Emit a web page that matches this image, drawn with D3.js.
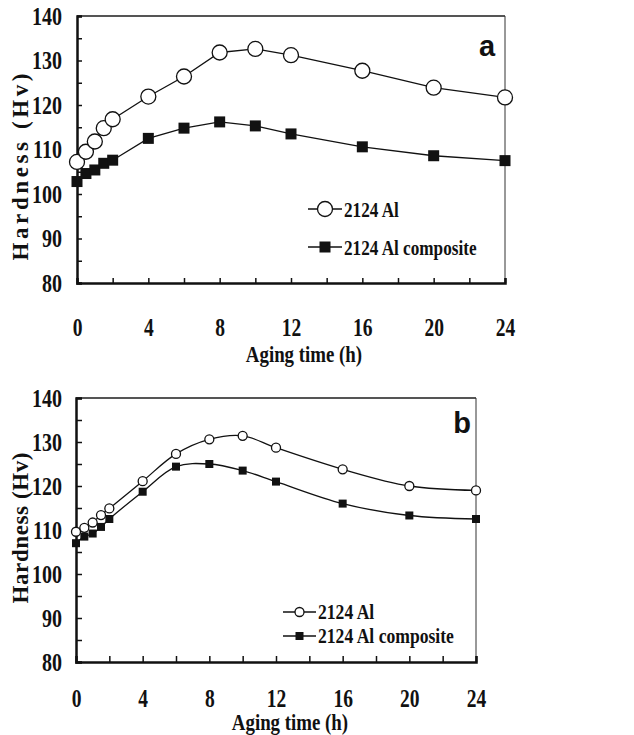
<!DOCTYPE html>
<html>
<head>
<meta charset="utf-8">
<script src="https://cdn.jsdelivr.net/npm/d3@7"></script>
<style>
  body { margin: 0; background: #fff; }
  svg { display: block; }
  text { font-family: "Liberation Serif", "Times New Roman", serif; font-weight: bold; fill: #111; }
</style>
</head>
<body>
<div id="chart"></div>
<script>
//Datos
const hours = [0, 0.5, 1, 1.5, 2, 4, 6, 8, 10, 12, 16, 20, 24];
const alloyA = [107.2, 109.5, 111.8, 114.8, 116.8, 121.9, 126.4, 131.8, 132.6, 131.2, 127.7, 123.9, 121.7];
const compositeA = [102.8, 104.6, 105.4, 106.9, 107.6, 112.5, 114.8, 116.2, 115.3, 113.5, 110.6, 108.6, 107.5];
const alloyB = [109.6, 110.5, 111.7, 113.4, 114.9, 121.1, 127.3, 130.6, 131.4, 128.7, 123.8, 120.0, 119.0];
const compositeB = [107.0, 108.5, 109.2, 110.7, 112.5, 118.7, 124.4, 125.0, 123.5, 121.0, 116.0, 113.3, 112.5];
const seriesNames = ['2124 Al', '2124 Al composite'];
const xTicks = [0, 4, 8, 12, 16, 20, 24];
const yTicks = [80, 90, 100, 110, 120, 130, 140];
const xTitle = 'Aging time (h)';
const yTitle = 'Hardness (Hv)';

let svg = d3.select('#chart').append('svg')
    .attr('width', 634)
    .attr('height', 735);

//Letra estrecha tipo Times condensada
function squeeze(sel, f) {
    sel.each(function() {
        let w = this.getComputedTextLength();
        d3.select(this)
            .attr('textLength', w * f)
            .attr('lengthAdjust', 'spacingAndGlyphs');
    });
}

function drawPanel(p) {
    let g = svg.append('g');

    let x = d3.scaleLinear().domain([0, 24]).range([p.left, p.right]);
    let y = d3.scaleLinear().domain([80, 140]).range([p.bottom, p.top]);

    //Marco: arriba gris, derecha fina
    g.append('line')
        .attr('x1', p.left).attr('x2', p.right)
        .attr('y1', p.top).attr('y2', p.top)
        .attr('stroke', '#555').attr('stroke-width', 2);
    g.append('line')
        .attr('x1', p.right).attr('x2', p.right)
        .attr('y1', p.top).attr('y2', p.bottom)
        .attr('stroke', '#333').attr('stroke-width', 1);

    //Ejes con ticks hacia dentro
    let xAxis = d3.axisBottom(x)
        .tickValues(d3.range(0, 25, 2))
        .tickSize(-p.tick)
        .tickFormat(function(d) { return xTicks.includes(d) ? d : ''; })
        .tickPadding(p.xPad);
    g.append('g')
        .attr('transform', 'translate(0,' + p.bottom + ')')
        .call(xAxis)
        .call(function(a) {
            a.select('.domain').attr('stroke', '#111').attr('stroke-width', 2.5);
            a.selectAll('.tick line').attr('stroke', '#111').attr('stroke-width', 1.5);
            a.selectAll('.tick text')
                .style('font-size', p.tickFont + 'px')
                .call(squeeze, 0.78);
        });

    let yAxis = d3.axisLeft(y)
        .tickValues(d3.range(80, 141, 5))
        .tickSize(-p.tick)
        .tickFormat(function(d) { return yTicks.includes(d) ? d : ''; })
        .tickPadding(p.yPad);
    g.append('g')
        .attr('transform', 'translate(' + p.left + ',0)')
        .call(yAxis)
        .call(function(a) {
            a.select('.domain').attr('stroke', '#111').attr('stroke-width', 2.5);
            a.selectAll('.tick line').attr('stroke', '#111').attr('stroke-width', 1.5);
            a.selectAll('.tick text')
                .style('font-size', p.tickFont + 'px')
                .call(squeeze, 0.8);
        });

    //Titulos
    g.append('text')
        .attr('x', p.xTitleX).attr('y', p.xTitleY)
        .attr('text-anchor', 'middle')
        .style('font-size', p.titleFont + 'px')
        .text(xTitle)
        .call(squeeze, 0.82);
    g.append('text')
        .attr('transform', 'translate(' + p.yTitleX + ',' + p.yTitleY + ') rotate(-90)')
        .attr('text-anchor', 'middle')
        .attr('textLength', p.yTitleLen)
        .attr('lengthAdjust', 'spacing')
        .style('font-size', p.titleFont + 'px')
        .text(yTitle);

    //Letra del panel
    g.append('text')
        .attr('x', p.letterX).attr('y', p.letterY)
        .attr('text-anchor', 'middle')
        .style('font-family', '"Liberation Sans", Arial, sans-serif')
        .style('font-size', '29px')
        .text(p.letter);

    //Series
    let line = d3.line()
        .x(function(d) { return x(d[0]); })
        .y(function(d) { return y(d[1]); })
        .curve(p.curve);

    let series = [
        { name: seriesNames[0], values: d3.zip(hours, p.alloy), shape: 'circle' },
        { name: seriesNames[1], values: d3.zip(hours, p.composite), shape: 'square' }
    ];

    series.forEach(function(s) {
        g.append('path')
            .datum(s.values)
            .attr('d', line)
            .attr('fill', 'none')
            .attr('stroke', '#111')
            .attr('stroke-width', 1.3);
    });

    function marker(sel, shape) {
        if (shape == 'circle') {
            sel.append('circle')
                .attr('r', p.r)
                .attr('fill', '#fff')
                .attr('stroke', '#111')
                .attr('stroke-width', 1.3);
        } else {
            sel.append('rect')
                .attr('x', -p.sq / 2).attr('y', -p.sq / 2)
                .attr('width', p.sq).attr('height', p.sq)
                .attr('fill', '#111');
        }
    }

    //Dibujamos primero los cuadrados para que los circulos queden encima
    [series[1], series[0]].forEach(function(s) {
        g.selectAll(null)
            .data(s.values)
            .enter()
            .append('g')
            .attr('transform', function(d) { return 'translate(' + x(d[0]) + ',' + y(d[1]) + ')'; })
            .each(function() { marker(d3.select(this), s.shape); });
    });

    //Leyenda
    series.forEach(function(s, i) {
        let ly = p.legendY + i * p.legendGap;
        g.append('line')
            .attr('x1', p.legendX).attr('x2', p.legendX + p.legendLine)
            .attr('y1', ly).attr('y2', ly)
            .attr('stroke', '#111').attr('stroke-width', 1.3);
        let m = g.append('g')
            .attr('transform', 'translate(' + (p.legendX + p.legendLine / 2) + ',' + ly + ')');
        marker(m, s.shape);
        g.append('text')
            .attr('x', p.legendX + p.legendLine + 2)
            .attr('y', ly)
            .attr('dy', '0.35em')
            .style('font-size', p.legendFont + 'px')
            .text(s.name)
            .call(squeeze, p.legendSqueeze);
    });
}

drawPanel({
    left: 77, right: 505, top: 16, bottom: 283,
    tick: 5, xPad: 35, yPad: 15, tickFont: 25, titleFont: 23,
    xTitleX: 304, xTitleY: 362, yTitleX: 28, yTitleY: 167, yTitleLen: 187,
    letter: 'a', letterX: 487, letterY: 56,
    curve: d3.curveLinear, alloy: alloyA, composite: compositeA,
    r: 7.5, sq: 11,
    legendX: 308, legendY: 209, legendGap: 38, legendLine: 34, legendFont: 22, legendSqueeze: 0.78
});

drawPanel({
    left: 76, right: 476, top: 398, bottom: 662,
    tick: 6, xPad: 27, yPad: 14, tickFont: 25, titleFont: 23,
    xTitleX: 290, xTitleY: 730, yTitleX: 28, yTitleY: 528, yTitleLen: 151,
    letter: 'b', letterX: 462, letterY: 433,
    curve: d3.curveCatmullRom, alloy: alloyB, composite: compositeB,
    r: 4.5, sq: 8,
    legendX: 283, legendY: 612, legendGap: 24, legendLine: 33, legendFont: 20, legendSqueeze: 0.88
});
</script>
</body>
</html>
